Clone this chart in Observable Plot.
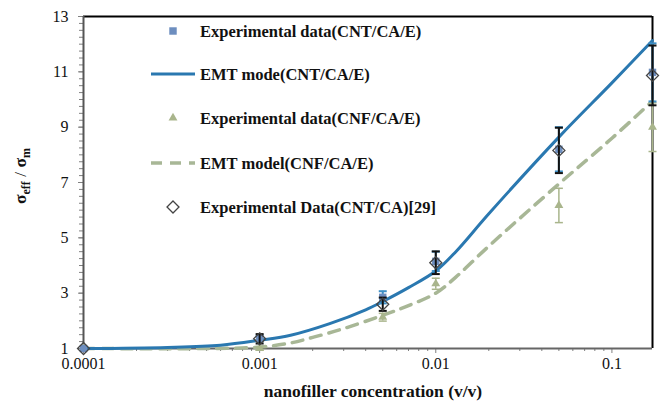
<!DOCTYPE html>
<html>
<head>
<meta charset="utf-8">
<script src="https://cdn.jsdelivr.net/npm/d3@7"></script>
<script src="https://cdn.jsdelivr.net/npm/@observablehq/plot@0.6"></script>
<style>
  html, body { margin: 0; padding: 0; background: #fff; }
  #chart svg { display: block; }
</style>
</head>
<body>
<div id="chart"></div>
<script>
// ---------- data ----------
const conc = [0.0001, 0.001, 0.005, 0.01, 0.05, 0.17];

const cntExp     = [1.0, 1.36, 2.85, 4.15, 8.2, 10.98];
const cntExpErr  = [0, 0.1, 0.22, 0.35, 0.8, 1.05];

const cnfExp     = [1.0, 1.0, 2.13, 3.34, 6.17, 9.0];
const cnfExpErr  = [0, 0.05, 0.14, 0.2, 0.62, 0.88];

const cntCaExp   = [1.0, 1.35, 2.6, 4.1, 8.16, 10.87];
const cntCaErr   = [0, 0.17, 0.24, 0.41, 0.82, 1.08];

const emtCntX = [0.0001, 0.0003, 0.0006, 0.001, 0.0015, 0.0025, 0.004, 0.005, 0.007, 0.01, 0.013, 0.02, 0.05, 0.1, 0.17];
const emtCntY = [1.0, 1.04, 1.12, 1.3, 1.48, 1.9, 2.4, 2.7, 3.2, 3.8, 4.5, 5.87, 8.64, 10.6, 12.13];

const emtCnfX = [0.0001, 0.0005, 0.001, 0.0015, 0.002, 0.003, 0.005, 0.007, 0.01, 0.013, 0.02, 0.05, 0.1, 0.17];
const emtCnfY = [1.0, 1.0, 1.05, 1.2, 1.4, 1.72, 2.2, 2.55, 3.0, 3.58, 4.7, 6.95, 8.6, 9.95];

const xTicks = [0.0001, 0.001, 0.01, 0.1];
const xTickLabels = ["0.0001", "0.001", "0.01", "0.1"];
const yTicks = [1, 3, 5, 7, 9, 11, 13];
const yTickLabels = ["1", "3", "5", "7", "9", "11", "13"];

const legendLabels = [
  "Experimental data(CNT/CA/E)",
  "EMT mode(CNT/CA/E)",
  "Experimental data(CNF/CA/E)",
  "EMT model(CNF/CA/E)",
  "Experimental Data(CNT/CA)[29]"
];
const xTitle = "nanofiller concentration (v/v)";

// ---------- tables ----------
const expTable = (ys, errs) => conc.map((x, i) => ({x, y: ys[i], e: errs[i]}));
const cntT = expTable(cntExp, cntExpErr);
const cnfT = expTable(cnfExp, cnfExpErr);
const caT = expTable(cntCaExp, cntCaErr);
const emtCnt = emtCntX.map((x, i) => ({x, y: emtCntY[i]}));
const emtCnf = emtCnfX.map((x, i) => ({x, y: emtCnfY[i]}));

const xMinor = [];
for (const dec of [0.0001, 0.001, 0.01]) for (let k = 2; k <= 9; k++) xMinor.push(dec * k);
const yMinor = d3.range(1, 13.001, 0.25);
const xLabelMap = new Map(xTicks.map((v, i) => [v, xTickLabels[i]]));
const yLabelMap = new Map(yTicks.map((v, i) => [v, yTickLabels[i]]));

const FONT = "'Times New Roman', 'Liberation Serif', 'DejaVu Serif', serif";
const BLUE = "#2a78b0", GREEN = "#a8b796", SQ = "#6d8ebf", TRI = "#a9b58c";
const cap = {draw(ctx, size) { const r = Math.sqrt(size / Math.PI); ctx.moveTo(-r, 0); ctx.lineTo(r, 0); }};

const errMarks = (T, color, w) => [
  Plot.ruleX(T.filter(d => d.e > 0), {x: "x", y1: d => d.y - d.e, y2: d => d.y + d.e, stroke: color, strokeWidth: w}),
  Plot.dot(T.filter(d => d.e > 0), {x: "x", y: d => d.y + d.e, symbol: cap, r: 4, fill: "none", stroke: color, strokeWidth: w}),
  Plot.dot(T.filter(d => d.e > 0), {x: "x", y: d => d.y - d.e, symbol: cap, r: 4, fill: "none", stroke: color, strokeWidth: w})
];

const chart = Plot.plot({
  width: 661, height: 405,
  marginLeft: 83, marginRight: 9, marginTop: 16, marginBottom: 57,
  style: {fontFamily: FONT, fontSize: "16px", background: "#fff", color: "#111"},
  x: {type: "log", domain: [0.0001, 0.17]},
  y: {domain: [1, 13]},
  marks: [
    Plot.axisX({ticks: xMinor, tickSize: 3, tickFormat: () => "", stroke: "#808080", label: null}),
    Plot.axisX({ticks: xTicks, tickSize: 5, tickPadding: 4, tickFormat: d => xLabelMap.get(d), stroke: "#808080", label: null, fill: "#111"}),
    Plot.axisY({ticks: yMinor, tickSize: 4, tickFormat: () => "", stroke: "#808080", label: null}),
    Plot.axisY({ticks: yTicks, tickSize: 5, tickPadding: 10, tickFormat: d => yLabelMap.get(d), stroke: "#808080", label: null, fill: "#111"}),
    Plot.ruleY([13], {stroke: "#000", strokeWidth: 2}),
    Plot.ruleX([0.17], {stroke: "#000", strokeWidth: 2}),
    Plot.ruleX([0.0001], {stroke: "#555", strokeWidth: 2}),
    Plot.ruleY([1], {stroke: "#666", strokeWidth: 2}),
    Plot.line(emtCnf, {x: "x", y: "y", stroke: GREEN, strokeWidth: 3.5, strokeDasharray: "11,8", curve: "catmull-rom"}),
    Plot.line(emtCnt, {x: "x", y: "y", stroke: BLUE, strokeWidth: 3, curve: "catmull-rom"}),
    ...errMarks(cnfT, TRI, 1.5),
    Plot.dot(cnfT, {x: "x", y: "y", symbol: "triangle", r: 3.3, fill: TRI, stroke: "none"}),
    ...errMarks(cntT, "#3d8fc6", 2),
    Plot.dot(cntT, {x: "x", y: "y", symbol: "square", r: 4.2, fill: SQ, stroke: "none"}),
    ...errMarks(caT, "#111", 2),
    Plot.dot(caT, {x: "x", y: "y", symbol: "diamond2", r: 5.4, fill: "none", stroke: "#444", strokeWidth: 1.3})
  ]
});

const svg = d3.select(chart);
// x axis title
svg.append("text").attr("x", 373).attr("y", 397).attr("text-anchor", "middle")
  .attr("font-family", FONT).attr("font-weight", "bold").attr("font-size", 17.5)
  .attr("fill", "#111").text(xTitle);
// y axis title with subscripts
const yt = svg.append("text").attr("transform", "translate(26,176) rotate(-90)").attr("text-anchor", "middle")
  .attr("font-family", FONT).attr("font-weight", "bold").attr("font-size", 17.5).attr("fill", "#111");
yt.append("tspan").text("σ");
yt.append("tspan").attr("font-size", 12).attr("dy", 4).text("eff");
yt.append("tspan").attr("dy", -4).attr("font-weight", "normal").text(" / ");
yt.append("tspan").text("σ");
yt.append("tspan").attr("font-size", 12).attr("dy", 4).text("m");

// legend
const lg = svg.append("g").attr("font-family", FONT).attr("font-weight", "bold").attr("font-size", 16.5).attr("fill", "#111").attr("text-anchor", "start");
const ly = [31, 74, 118, 163, 207];
legendLabels.forEach((t, i) => {
  lg.append("text").attr("x", 200).attr("y", ly[i]).attr("dy", "0.35em").attr("text-anchor", "start").text(t);
});
lg.append("path").attr("transform", `translate(173,${ly[0]})`).attr("d", d3.symbol(d3.symbolSquare, Math.PI * 4.2 * 4.2)()).attr("fill", SQ);
lg.append("line").attr("x1", 151).attr("x2", 195).attr("y1", ly[1]).attr("y2", ly[1]).attr("stroke", BLUE).attr("stroke-width", 3);
lg.append("path").attr("transform", `translate(173,${ly[2]})`).attr("d", d3.symbol(d3.symbolTriangle, Math.PI * 3.3 * 3.3)()).attr("fill", TRI);
lg.append("line").attr("x1", 151).attr("x2", 195).attr("y1", ly[3]).attr("y2", ly[3]).attr("stroke", GREEN).attr("stroke-width", 3.5).attr("stroke-dasharray", "11,8");
lg.append("path").attr("transform", `translate(173,${ly[4]})`).attr("d", d3.symbol(d3.symbolDiamond2, Math.PI * 5.4 * 5.4)()).attr("fill", "none").attr("stroke", "#444").attr("stroke-width", 1.3);

document.getElementById("chart").appendChild(chart);
</script>
</body>
</html>
